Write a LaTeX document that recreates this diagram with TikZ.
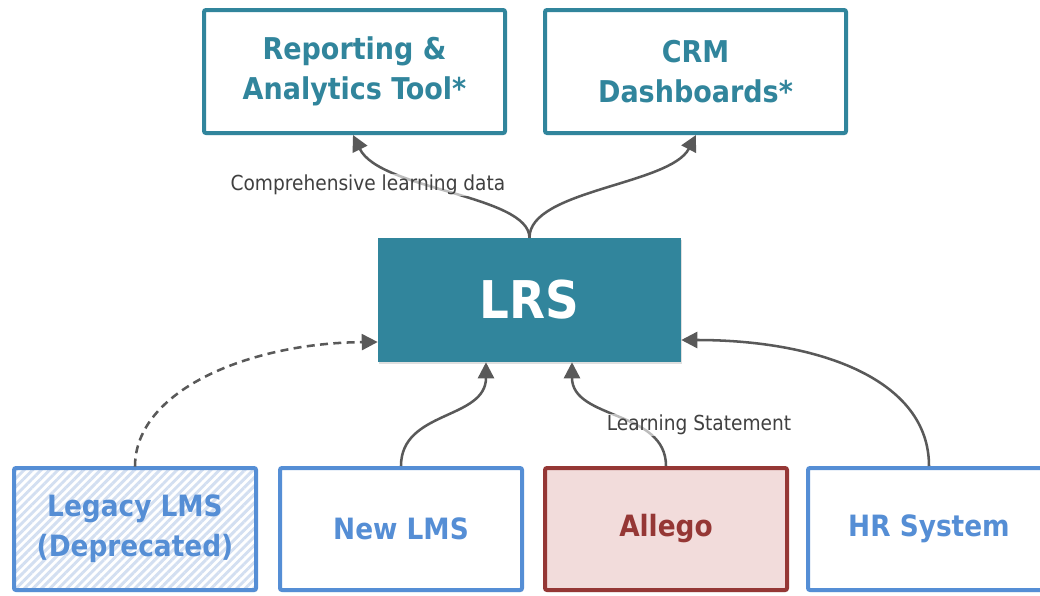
\documentclass[tikz,border=0pt]{standalone}
\usepackage{fontspec}
\setmainfont{DejaVu Sans Condensed}
\usetikzlibrary{arrows.meta,shadows,patterns.meta}
\definecolor{teal}{HTML}{31859C}
\definecolor{lblue}{HTML}{558ED5}
\definecolor{dred}{HTML}{953735}
\definecolor{pink}{HTML}{F2DCDB}
\definecolor{hatch}{HTML}{D3DFF1}
\definecolor{conn}{HTML}{595959}
\definecolor{lbl}{HTML}{404040}
\tikzset{
  shad/.style={drop shadow={opacity=0.25, shadow xshift=1pt, shadow yshift=-1.5pt}},
  box/.style={draw, line width=3pt, rounded corners=1.5pt, align=center,
    font=\bfseries\fontsize{22.5}{30}\selectfont, shad},
  topbox/.style={box, draw=teal, fill=white, text=teal, minimum width=225.75pt, minimum height=92.25pt},
  botbox/.style={box, minimum width=181.5pt, minimum height=91.5pt, font=\bfseries\fontsize{22}{30}\selectfont},
  bluebox/.style={botbox, draw=lblue, fill=white, text=lblue},
  arr/.style={draw=conn, line width=1.9pt, -{Triangle[length=12pt, width=12pt]}},
  elabel/.style={font=\fontsize{15.5}{18}\selectfont, text=lbl, fill=white, fill opacity=0.6, text opacity=1, inner sep=1pt}
}
\begin{document}
\begin{tikzpicture}[x=0.75pt, y=-0.75pt]
\useasboundingbox (0,0) rectangle (1040,596);
\node[topbox] (rep) at (354.5,71.5) {Reporting \&\\Analytics Tool*};
\node[topbox] (crm) at (695.5,71.5) {CRM\\Dashboards*};
\node[fill=teal, text=white, font=\bfseries\fontsize{39}{44}\selectfont,
      minimum width=227.25pt, minimum height=93pt, inner sep=0pt, shad] (lrs) at (529.5,300) {\raisebox{1.5pt}{LRS}};
\node[botbox, draw=lblue, text=lblue, preaction={fill=white},
      pattern={Lines[angle=45, distance=4.5pt, line width=2.2pt]}, pattern color=hatch] (leg) at (135,529) {Legacy LMS\\(Deprecated)};
\node[bluebox] (new) at (401,529) {New LMS};
\node[botbox, draw=dred, fill=pink, text=dred] (all) at (666,529) {Allego};
\node[bluebox] (hr) at (929,529) {HR System};

\draw[arr] (lrs.north) .. controls (529,195) and (380,190) .. (rep.south -| 353,0);
\draw[arr] (lrs.north) .. controls (529,190) and (670,185) .. (crm.south -| 696,0);
\node[elabel] (l1) at (368,185) {Comprehensive learning data};
\draw[arr, dashed, dash pattern=on 6pt off 4pt] (leg.north) .. controls (135,390) and (250,343) .. (lrs.west |- 0,342);
\draw[arr] (new.north) .. controls (401,410) and (486,420) .. (lrs.south -| 486,0);
\draw[arr] (all.north) .. controls (666,410) and (572,420) .. (lrs.south -| 572,0);
\node[elabel] (l2) at (699,425) {Learning Statement};
\draw[arr] (hr.north) .. controls (929,380) and (820,340) .. (lrs.east |- 0,340);
\end{tikzpicture}
\end{document}
